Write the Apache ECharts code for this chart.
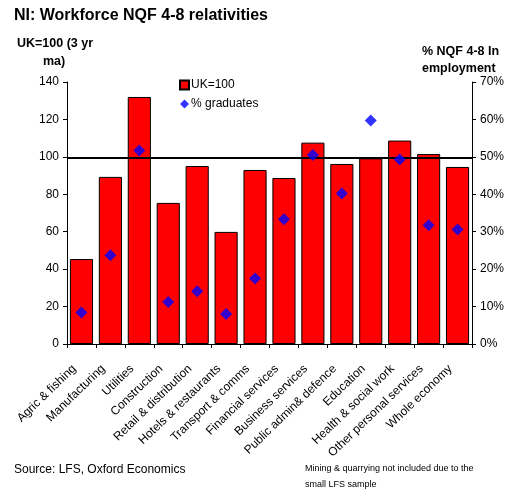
<!DOCTYPE html>
<html><head><meta charset="utf-8">
<script src="https://cdn.jsdelivr.net/npm/echarts@6/dist/echarts.min.js"></script>
<style>html,body{margin:0;padding:0;background:#fff}#c{width:512px;height:492px}</style>
</head><body><div id="c"></div>
<script>
const categories = ["Agric & fishing","Manufacturing","Utilities","Construction","Retail & distribution","Hotels & restaurants","Transport & comms","Financial services","Business services","Public admin& defence","Education","Health & social work","Other personal services","Whole economy"];
const ukIndex = [45.4, 89.3, 132, 75.4, 95.1, 59.9, 93, 88.7, 107.6, 96.2, 99.2, 108.7, 101.5, 94.6];
const pctGraduates = [8.4, 23.7, 51.7, 11.2, 14.1, 8.0, 17.5, 33.3, 50.5, 40.2, 59.7, 49.3, 31.7, 30.6];
const refLine = 99.5;
const font = "Liberation Sans, Arial, sans-serif";

const chart = echarts.init(document.getElementById('c'), null, {renderer:'canvas'});
chart.setOption({
  animation:false,
  textStyle:{fontFamily:font},
  grid:{left:67,right:40,top:82,bottom:148,containLabel:false},
  legend:{
    left:174, top:74, orient:'vertical', itemGap:7, itemWidth:9, itemHeight:9,
    textStyle:{fontFamily:font,fontSize:12,color:'#000',padding:[0,0,0,-3]},
    data:[{name:'UK=100',icon:'rect'},{name:'% graduates',icon:'diamond'}]
  },
  xAxis:{
    type:'category', data:categories,
    axisLine:{lineStyle:{color:'#000',width:1}},
    axisTick:{show:true,alignWithLabel:false,length:4,lineStyle:{color:'#000'}},
    axisLabel:{interval:0,rotate:44,fontSize:12,color:'#000',fontFamily:font,margin:16,padding:[0,10,0,0]}
  },
  yAxis:[
    {type:'value',min:0,max:140,interval:20,
     axisLine:{show:true,lineStyle:{color:'#000'}},
     axisTick:{show:true,length:4,lineStyle:{color:'#000'}},
     splitLine:{show:false},
     axisLabel:{fontSize:12,color:'#000',fontFamily:font,margin:8}},
    {type:'value',min:0,max:70,interval:10,position:'right',
     axisLine:{show:true,lineStyle:{color:'#000'}},
     axisTick:{show:true,length:4,inside:false,lineStyle:{color:'#000'}},
     splitLine:{show:false},
     axisLabel:{fontSize:12,color:'#000',fontFamily:font,margin:8,formatter:'{value}%'}}
  ],
  series:[
    {name:'UK=100',type:'bar',data:ukIndex,barCategoryGap:'20%',
     itemStyle:{color:'#ff0000',borderColor:'#000',borderWidth:1},
     markLine:{silent:true,symbol:'none',label:{show:false},
       lineStyle:{color:'#000',width:2,type:'solid'},
       data:[{yAxis:refLine}]}},
    {name:'% graduates',type:'scatter',yAxisIndex:1,data:pctGraduates,
     symbol:'diamond',symbolSize:12,itemStyle:{color:'#0000ff'},z:5}
  ],
  graphic:[
    {type:'text',left:14,top:8,style:{text:'NI: Workforce NQF 4-8 relativities',font:'bold 16px '+font,fill:'#000'}},
    {type:'text',left:17,top:37,style:{text:'UK=100 (3 yr',font:'bold 12.5px '+font,fill:'#000'}},
    {type:'text',left:43,top:55,style:{text:'ma)',font:'bold 12.5px '+font,fill:'#000'}},
    {type:'text',left:422,top:43,style:{text:'% NQF 4-8 In\nemployment',font:'bold 12.5px '+font,fill:'#000',lineHeight:17}},
    {type:'text',left:14,top:464,style:{text:'Source: LFS, Oxford Economics',font:'12px '+font,fill:'#000'}},
    {type:'text',left:305,top:461,style:{text:'Mining & quarrying not included due to the\nsmall LFS sample',font:'9px '+font,fill:'#000',lineHeight:16}}
  ]
});
</script></body></html>
